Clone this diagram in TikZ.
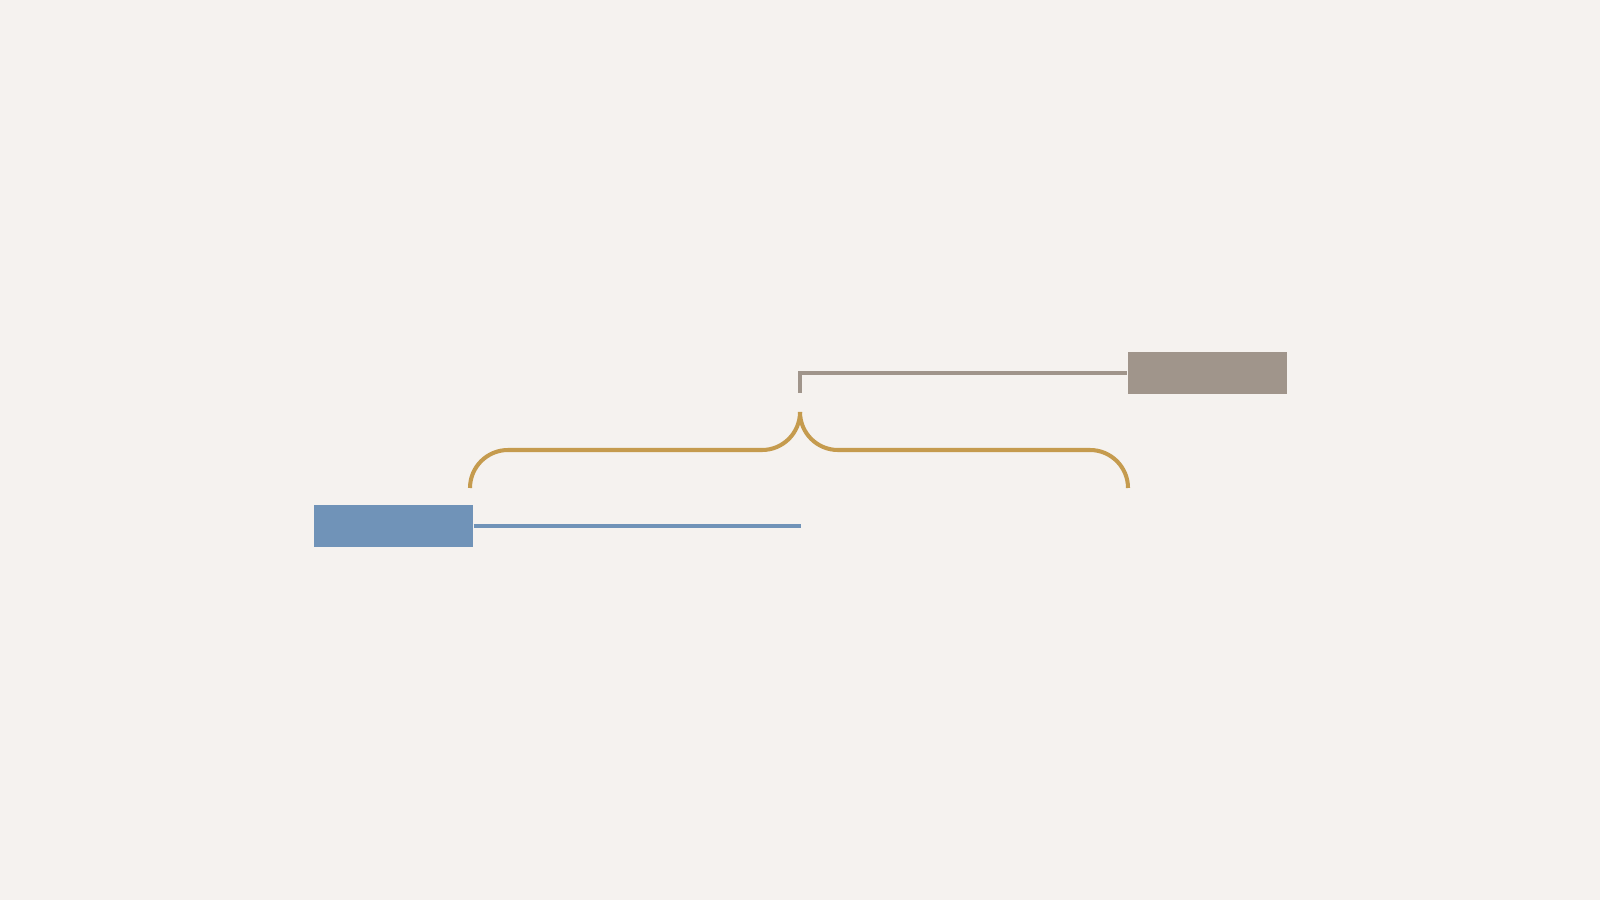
\documentclass[tikz,border=0pt]{standalone}
\usepackage{tikz}

\definecolor{paper}{RGB}{245,242,239}
\definecolor{barblue}{RGB}{112,147,184}
\definecolor{bargray}{RGB}{160,149,139}
\definecolor{bracegold}{RGB}{197,155,78}

\tikzset{
  bar/.style={rectangle, inner sep=0pt, minimum width=1.59cm, minimum height=0.42cm},
  link/.style={line width=0.9pt},
  brace/.style={color=bracegold, line width=1.15pt}
}

\begin{document}
\begin{tikzpicture}
      \fill[paper] (0,0) rectangle (16,9);
      \useasboundingbox (0,0) rectangle (16,9);

      % the two bars
      \node[bar, fill=barblue] (lower) at (3.935,3.74) {};
      \node[bar, fill=bargray] (upper) at (12.07,5.27) {};

      \coordinate (lowerend) at (8.01,3.74);
      \coordinate (upperend) at (8.0,5.07);

      \draw[link, color=barblue] (lower.east) -- (lowerend);
      \draw[link, color=bargray] (upper.west) -| (upperend);

      % brace
      \coordinate (tip) at (8.0,4.88);
      \draw[brace] (4.70,4.12) arc[start angle=180, end angle=90, radius=0.38]
            -- (7.62,4.50) arc[start angle=270, end angle=360, radius=0.38];
      \draw[brace] (tip) arc[start angle=180, end angle=270, radius=0.38]
            -- (10.90,4.50) arc[start angle=90, end angle=0, radius=0.38];

\end{tikzpicture}
\end{document}
